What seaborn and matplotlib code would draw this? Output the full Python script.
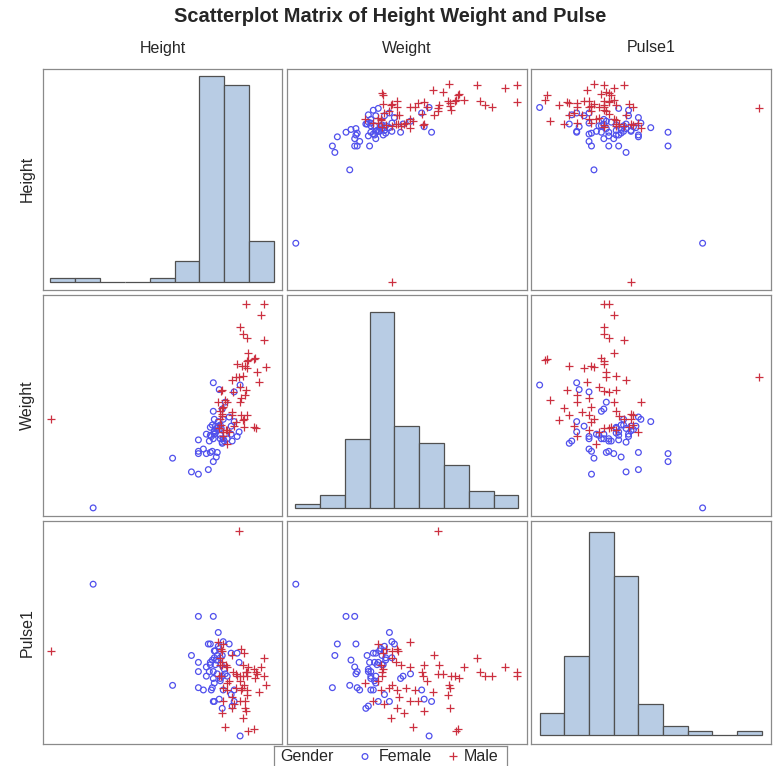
import numpy as np
import pandas as pd
import matplotlib
matplotlib.use("Agg")
import matplotlib.pyplot as plt
import seaborn as sns

# ---- data -----------------------------------------------------------------
female_height = [54.3, 64.9, 66.4, 66.9, 67.4, 68.0, 65.9, 66.1, 66.6, 68.8,
                 68.2, 64.2, 66.5, 66.7, 64.9, 69.0, 66.4, 67.0, 69.1, 68.5,
                 67.6, 67.3, 66.4, 66.1, 67.2, 68.2, 68.5, 65.7, 66.2, 66.5,
                 67.1, 66.4, 67.5, 68.3, 65.4, 66.3, 66.8, 64.9, 65.7, 62.3,
                 64.9, 66.5, 67.4, 67.3, 67.8, 66.5, 66.8, 67.1, 66.1, 66.6,
                 67.3, 67.0, 66.3, 66.0, 67.1, 66.9]
female_weight = [60.5, 108, 101, 136, 138, 140, 94, 109, 132, 123,
                 125, 92, 138, 105, 120, 127, 170, 164, 168, 162,
                 153, 147, 145, 131, 130, 132, 136, 125, 123, 125,
                 121, 121, 119, 119, 112, 110, 109, 110, 108, 104,
                 90, 127, 121, 117, 121, 128, 130, 133, 124, 126,
                 118, 129, 133, 119, 124, 132]
female_pulse = [106, 92, 92, 85, 81, 80, 80, 80, 77, 76,
                76, 75, 74, 73, 72, 72, 55, 56, 40, 60,
                67, 66, 65, 71, 71, 58, 55, 66, 60, 63,
                65, 68, 69, 53, 60, 61, 67, 68, 70, 62,
                61, 55, 60, 52, 66, 77, 75, 74, 72, 71,
                75, 78, 73, 68, 64, 79]

male_height = [69.0, 66.9, 67.4, 50.1, 67.2, 69.2, 69.5, 68.3, 71.5, 69.9,
               71.2, 69.4, 67.3, 67.8, 67.7, 69.8, 70.5, 70.7, 69.1, 69.4,
               69.8, 68.8, 70.8, 68.7, 71.5, 69.7, 67.2, 68.4, 70.6, 69.1,
               68.0, 71.7, 67.8, 69.5, 69.3, 69.8, 71.0, 69.2, 67.4, 69.8,
               68.7, 67.8, 68.3, 69.1, 69.6, 67.4, 68.5, 69.6, 68.3, 67.3,
               69.7, 69.4, 67.6, 69.9, 70.5, 67.3, 67.1, 67.1, 67.0, 67.3]
male_weight = [175, 153, 127, 138, 133, 142, 131, 172, 207, 196,
               229, 176, 164, 153, 129, 209, 131, 130, 219, 213,
               189, 186, 179, 175, 239, 239, 163, 162, 192, 166,
               127, 184, 116, 138, 185, 183, 171, 157, 149, 142,
               136, 129, 144, 153, 159, 123, 132, 185, 142, 148,
               164, 137, 155, 190, 191, 143, 138, 145, 130, 141]
male_pulse = [129, 81, 80, 77, 78, 78, 76, 75, 74, 70,
              70, 71, 71, 70, 71, 68, 69, 68, 66, 66,
              66, 66, 67, 67, 66, 68, 66, 68, 65, 64,
              64, 62, 63, 62, 61, 58, 59, 60, 61, 60,
              61, 60, 57, 55, 55, 55, 54, 52, 52, 50,
              51, 48, 44, 42, 43, 77, 74, 71, 66, 72]

variables = ["Height", "Weight", "Pulse1"]
title_text = "Scatterplot Matrix of Height Weight and Pulse"
group_title = "Gender"
group_labels = ["Female", "Male"]

df = pd.concat([
    pd.DataFrame({"Height": female_height, "Weight": female_weight,
                  "Pulse1": female_pulse, "Gender": "Female"}),
    pd.DataFrame({"Height": male_height, "Weight": male_weight,
                  "Pulse1": male_pulse, "Gender": "Male"}),
], ignore_index=True)

# ---- styling ----------------------------------------------------------------
sns.set_style("white")
plt.rcParams["font.family"] = ["Liberation Sans", "DejaVu Sans"]

BLUE = "#5050ec"
RED = "#cc3040"
FILL = "#b8cce4"
EDGE = "#505050"
FRAME = "#8a8a8a"

CIRCLE_S, PLUS_S, MARK_LW = 17, 28, 0.9

bin_edges = {"Height": np.arange(50, 72.6, 2.5),
             "Weight": np.arange(60, 241, 20),
             "Pulse1": np.arange(40, 131, 10)}
axis_range = {"Height": (49.2, 73.35),
              "Weight": (53.4, 247.2),
              "Pulse1": (36.5, 133.7)}
# (baseline, tallest bar) as fractions of the panel height
hist_span = {"Height": (0.036, 0.964),
             "Weight": (0.034, 0.919),
             "Pulse1": (0.040, 0.949)}

W_PX, H_PX = 775, 766
fig = plt.figure(figsize=(W_PX / 100, H_PX / 100), dpi=100)

col_px = [(42.5, 282.3), (287.0, 527.3), (531.0, 771.0)]
row_px = [(68.5, 290.0), (294.5, 516.0), (520.5, 744.0)]


def px_axes(x0, x1, y0, y1):
    return fig.add_axes([x0 / W_PX, 1 - y1 / H_PX, (x1 - x0) / W_PX, (y1 - y0) / H_PX])


females = df[df["Gender"] == "Female"]
males = df[df["Gender"] == "Male"]

for i, yv in enumerate(variables):
    for j, xv in enumerate(variables):
        ax = px_axes(col_px[j][0], col_px[j][1], row_px[i][0], row_px[i][1])
        if i == j:
            sns.histplot(data=df, x=xv, bins=bin_edges[xv], ax=ax, color=FILL,
                         edgecolor=EDGE, linewidth=0.9, alpha=1.0)
            top = max(p.get_height() for p in ax.patches)
            base, peak = hist_span[xv]
            span = top / (peak - base)
            ax.set_ylim(-base * span, -base * span + span)
        else:
            sns.scatterplot(data=females, x=xv, y=yv, ax=ax, marker="o", s=CIRCLE_S,
                            color=BLUE, facecolor="none", edgecolor=BLUE,
                            linewidth=MARK_LW, legend=False)
            sns.scatterplot(data=males, x=xv, y=yv, ax=ax, marker="+", s=PLUS_S,
                            color=RED, linewidth=MARK_LW, legend=False)
            ax.set_ylim(*axis_range[yv])
        ax.set_xlim(*axis_range[xv])
        ax.set_xticks([])
        ax.set_yticks([])
        ax.set_xlabel("")
        ax.set_ylabel("")
        for sp in ax.spines.values():
            sp.set_color(FRAME)
            sp.set_linewidth(0.9)

# ---- titles and variable labels ------------------------------------------
fig.text(390 / W_PX, 1 - 17 / H_PX, title_text, ha="center", va="center",
         fontsize=14.4, fontweight="bold")
for j, name in enumerate(variables):
    cx = (col_px[j][0] + col_px[j][1]) / 2
    fig.text(cx / W_PX, 1 - 48 / H_PX, name, ha="center", va="center", fontsize=11.5)
for i, name in enumerate(variables):
    cy = (row_px[i][0] + row_px[i][1]) / 2
    fig.text(27 / W_PX, 1 - cy / H_PX, name, ha="center", va="center",
             rotation=90, fontsize=11.5)

# ---- legend --------------------------------------------------------------
lax = px_axes(274, 507, 746, 768)
lax.set_xlim(274, 507)
lax.set_ylim(768, 746)
lax.set_xticks([])
lax.set_yticks([])
for sp in lax.spines.values():
    sp.set_color(FRAME)
    sp.set_linewidth(0.9)
ty = 756.5
lax.text(280, ty, group_title, ha="left", va="center", fontsize=11.5)
lax.scatter([365], [ty], marker="o", s=CIRCLE_S, facecolor="none", edgecolor=BLUE,
            linewidth=MARK_LW)
lax.text(379, ty, group_labels[0], ha="left", va="center", fontsize=11.5)
lax.scatter([453], [ty], marker="+", s=PLUS_S, color=RED, linewidth=MARK_LW)
lax.text(464, ty, group_labels[1], ha="left", va="center", fontsize=11.5)

fig.savefig("out.png", dpi=100)
